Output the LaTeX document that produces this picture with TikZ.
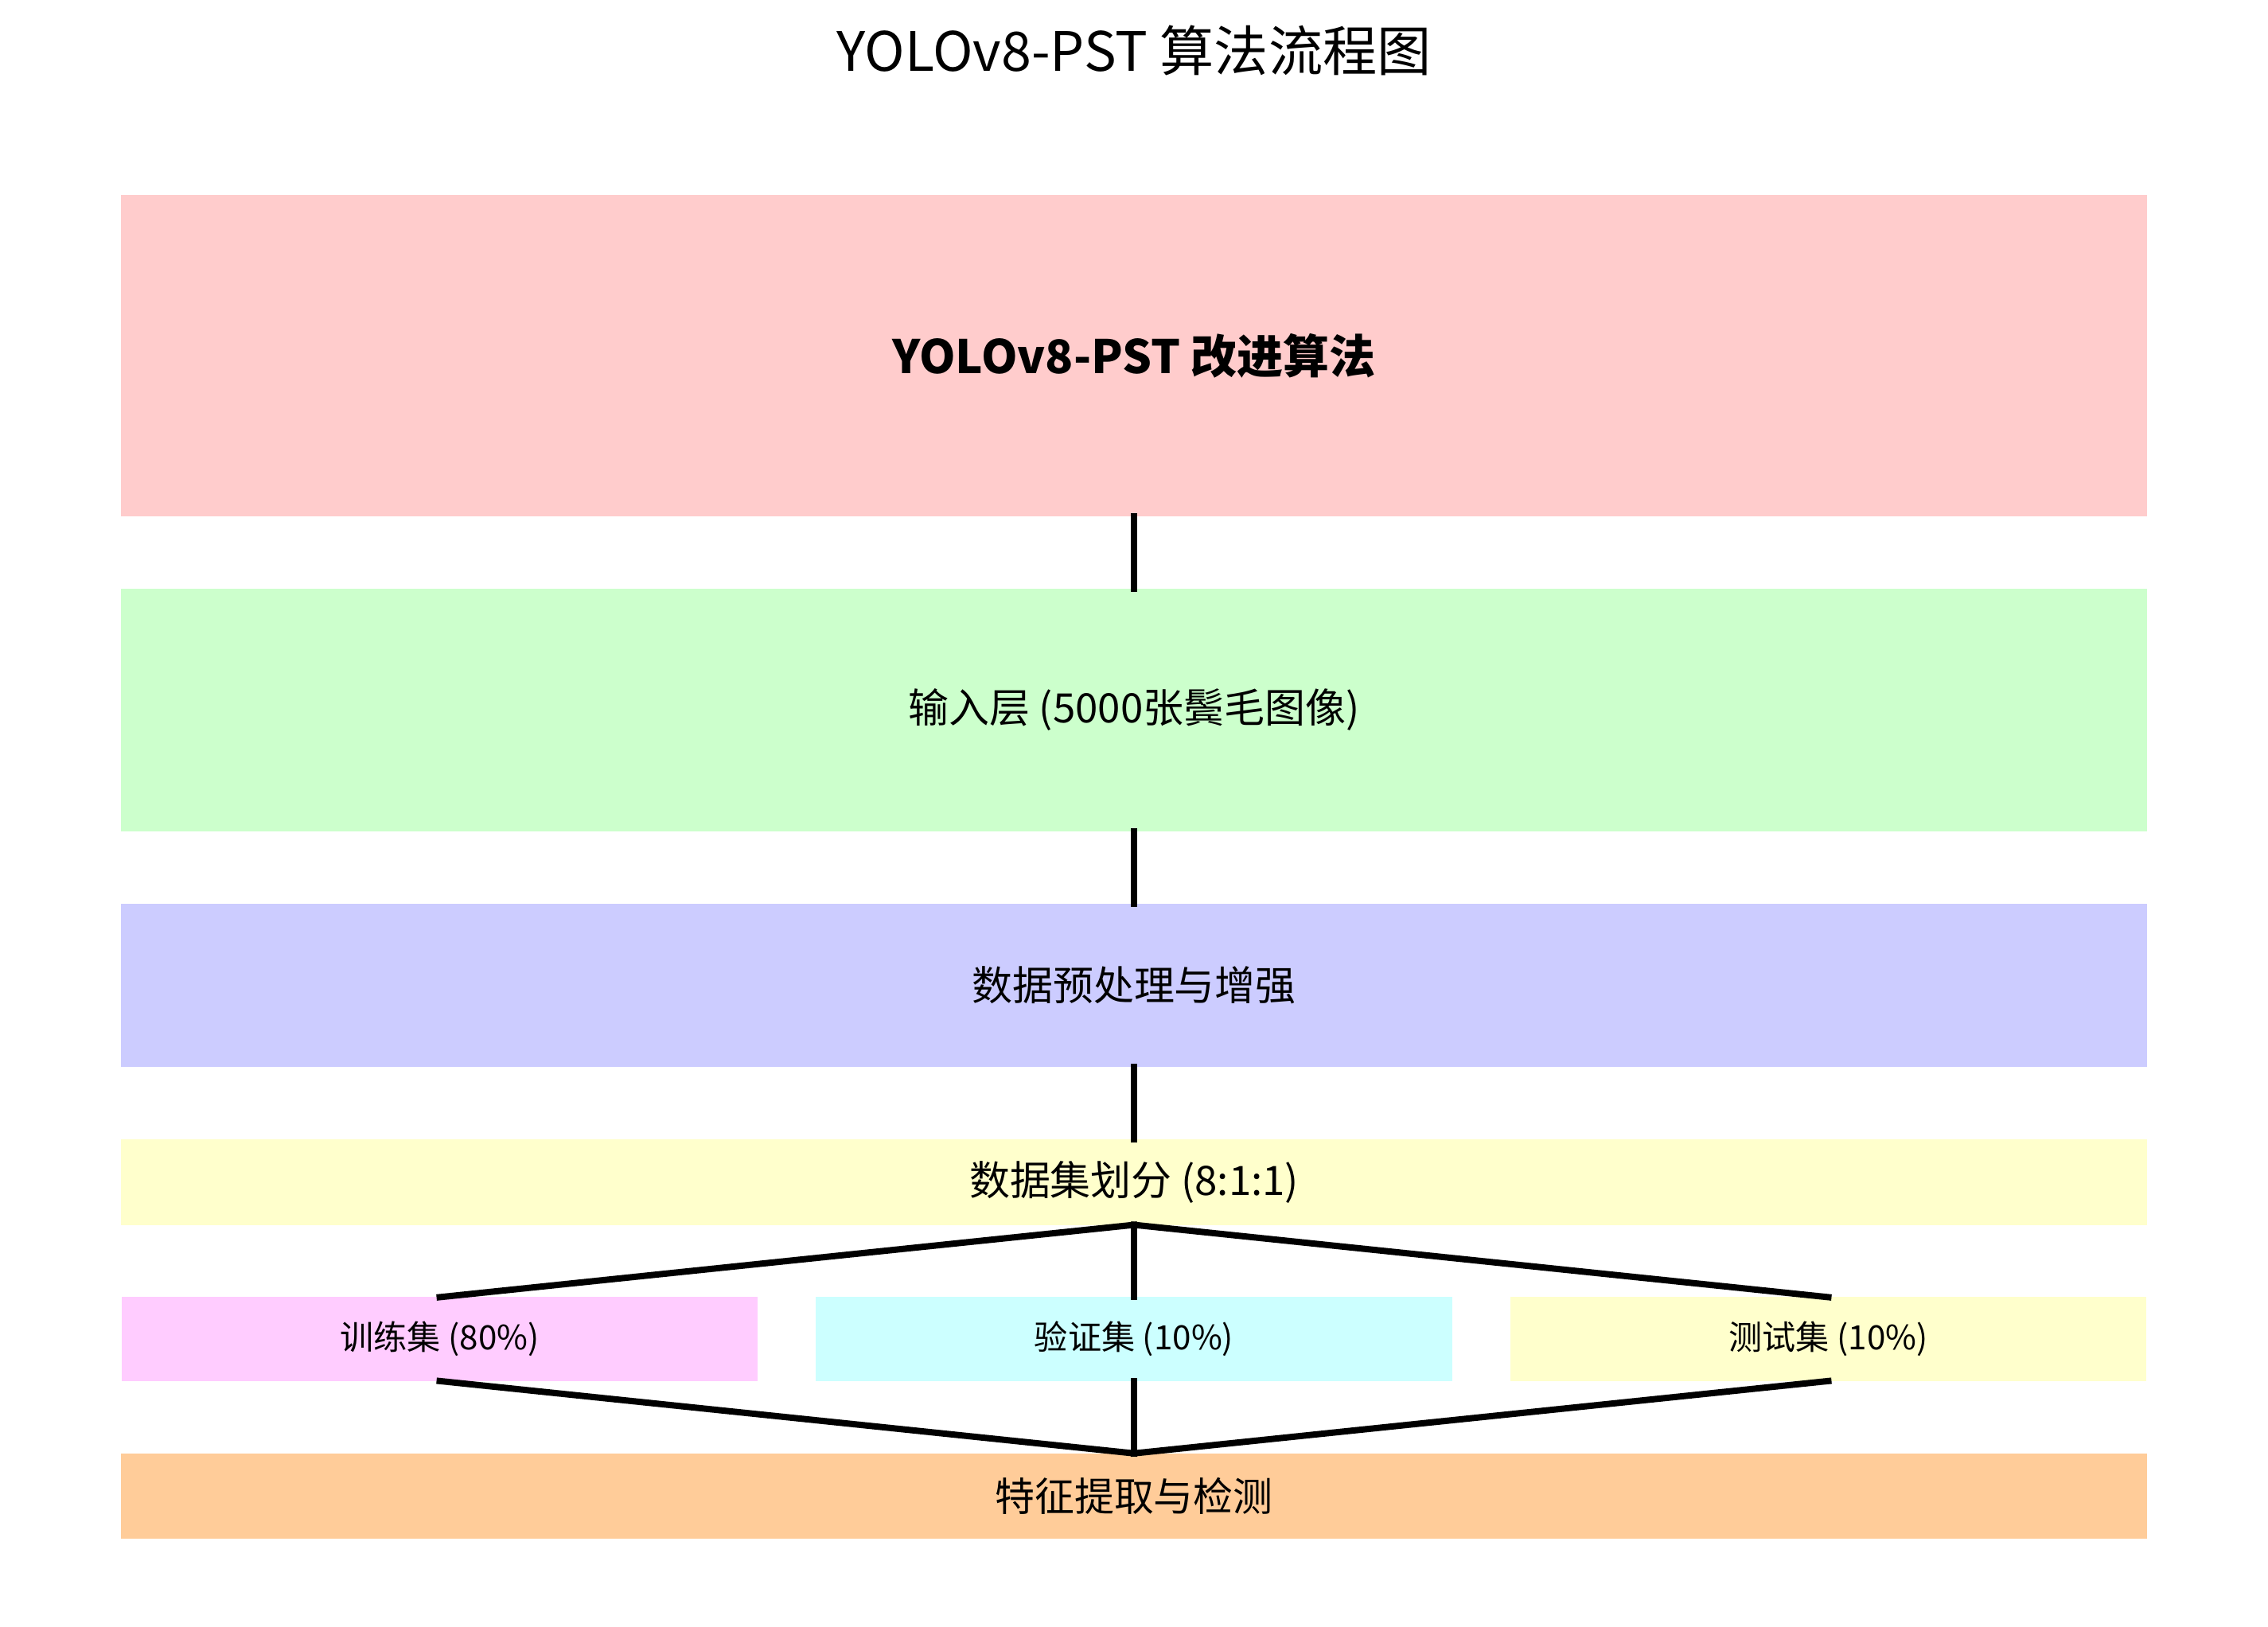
\documentclass[tikz,border=0pt]{standalone}
\usepackage{fontspec}
\setmainfont{Noto Sans CJK SC}
\definecolor{cred}{HTML}{FFCCCC}
\definecolor{cgreen}{HTML}{CCFFCC}
\definecolor{cblue}{HTML}{CCCCFF}
\definecolor{cyel}{HTML}{FFFFCC}
\definecolor{cpink}{HTML}{FFCCFF}
\definecolor{ccyan}{HTML}{CCFFFF}
\definecolor{corange}{HTML}{FFCC99}
\begin{document}
\begin{tikzpicture}[x=0.018176cm,y=-0.018176cm,
  box/.style={rectangle,inner sep=0pt,outer sep=0pt,anchor=center,align=center},
  wide/.style={box,minimum width=25.446cm},
  small/.style={box,minimum width=7.997cm,minimum height=1.054cm,font=\fontsize{12}{14}\selectfont},
  conn/.style={line width=2.27pt,line cap=rect,black}]
\useasboundingbox (0,0) rectangle (1568,1125);
\node[box,font=\fontsize{19.4}{24}\selectfont] (title) at (784,35) {YOLOv8-PST 算法流程图};
\node[wide,fill=cred,minimum height=4.035cm,font=\fontsize{16.5}{20}\selectfont\bfseries] (algo) at (784,246) {YOLOv8-PST 改进算法};
\node[wide,fill=cgreen,minimum height=3.054cm,font=\fontsize{14.5}{18}\selectfont] (input) at (784,491) {输入层 (5000张鬓毛图像)};
\node[wide,fill=cblue,minimum height=2.054cm,font=\fontsize{14.5}{18}\selectfont] (prep) at (784,681.5) {数据预处理与增强};
\node[wide,fill=cyel,minimum height=1.072cm,font=\fontsize{14.5}{18}\selectfont] (split) at (784,817.5) {数据集划分 (8:1:1)};
\node[small,fill=cpink] (train) at (304,926) {训练集 (80\%)};
\node[small,fill=ccyan] (val) at (784,926) {验证集 (10\%)};
\node[small,fill=cyel] (test) at (1264,926) {测试集 (10\%)};
\node[wide,fill=corange,minimum height=1.072cm,font=\fontsize{14.2}{18}\selectfont] (feat) at (784,1034.5) {特征提取与检测};
\draw[conn] (algo.south) -- (input.north);
\draw[conn] (input.south) -- (prep.north);
\draw[conn] (prep.south) -- (split.north);
\draw[conn] (split.south) -- (train.north);
\draw[conn] (split.south) -- (val.north);
\draw[conn] (split.south) -- (test.north);
\draw[conn] (train.south) -- (feat.north);
\draw[conn] (val.south) -- (feat.north);
\draw[conn] (test.south) -- (feat.north);
\end{tikzpicture}
\end{document}
